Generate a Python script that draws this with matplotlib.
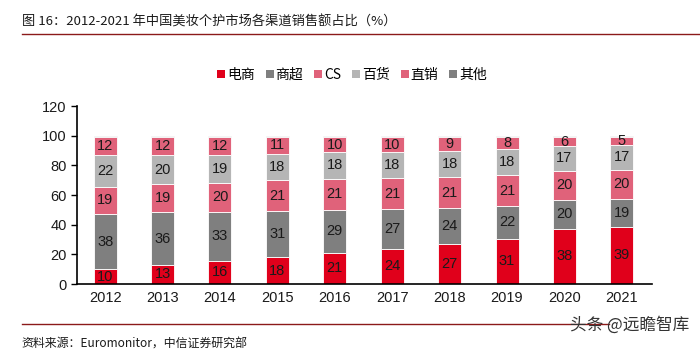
import numpy as np
import matplotlib
matplotlib.use("Agg")
import matplotlib.pyplot as plt
from matplotlib.lines import Line2D
from matplotlib.patches import Patch

plt.rcParams['font.family'] = ['Noto Sans CJK SC', 'DejaVu Sans']

years = ['2012', '2013', '2014', '2015', '2016', '2017', '2018', '2019', '2020', '2021']
ecommerce = [10, 13, 16, 18, 21, 24, 27, 31, 38, 39]
supermarket = [38, 36, 33, 31, 29, 27, 24, 22, 20, 19]
cs = [19, 19, 20, 21, 21, 21, 21, 21, 20, 20]
dept_store = [22, 20, 19, 18, 18, 18, 18, 18, 17, 17]
direct = [12, 12, 12, 11, 10, 10, 9, 8, 6, 5]
other = [1, 1, 1, 1, 1, 1, 1, 1, 1, 1]

names = ['电商', '商超', 'CS', '百货', '直销', '其他']
series = [ecommerce, supermarket, cs, dept_store, direct, other]
colors = ['#e0001b', '#7f7f7f', '#e0627a', '#b5b5b5', '#e0627a', '#7f7f7f']

# labels are rounded, so scale each bar back to a 100% total
data = np.array(series, dtype=float)
shares = data / data.sum(axis=0) * 100

fig = plt.figure(figsize=(7, 3.55), dpi=100)
ax = fig.add_axes([0.11, 0.2, 0.821, 0.501])

x = np.arange(len(years))
bottom = np.zeros(len(years))
for name, vals, shr, c in zip(names, series, shares, colors):
    ax.bar(x, shr, 0.4, bottom=bottom, color=c, edgecolor='white', linewidth=0.6, label=name, zorder=2)
    if name != '其他':
        for xi, b, s, v in zip(x, bottom, shr, vals):
            ax.text(xi, b + s / 2, f'{v}', ha='center', va='center', fontsize=10.5,
                    color='#1a1a1a', family=['Liberation Sans', 'DejaVu Sans'], zorder=3)
    bottom += shr

ax.set_ylim(0, 120)
ax.set_yticks(range(0, 121, 20))
ax.set_xlim(-0.49, 9.52)
ax.set_xticks(x)
ax.set_xticklabels(years)
for lab in ax.get_xticklabels() + ax.get_yticklabels():
    lab.set_family(['Liberation Sans', 'DejaVu Sans'])
    lab.set_fontsize(10.5)
    lab.set_color('#1a1a1a')
ax.spines['top'].set_visible(False)
ax.spines['right'].set_visible(False)
ax.spines['left'].set_linewidth(1.2)
ax.spines['bottom'].set_linewidth(1.2)
ax.tick_params(axis='y', direction='out', length=4, width=1)
ax.tick_params(axis='x', length=0, pad=5)

handles = [Patch(facecolor=c, edgecolor='none') for c in colors]
fig.legend(handles, names, loc='center', bbox_to_anchor=(0.503, 0.789), ncol=6, frameon=False,
           fontsize=10, handlelength=0.55, handleheight=0.55, handletextpad=0.15, columnspacing=0.8)

fig.text(0.031, 0.937, '图 16：2012-2021 年中国美妆个护市场各渠道销售额占比（%）', fontsize=9.5,
         color='#1a1a1a', ha='left', va='center', fontweight='medium')
fig.add_artist(Line2D([0.031, 1.0], [0.905, 0.905], color='#8b1a1a', linewidth=1.0))
fig.add_artist(Line2D([0.031, 0.87], [0.088, 0.088], color='#8b1a1a', linewidth=1.0))
fig.text(0.031, 0.03, '资料来源：Euromonitor，中信证券研究部', fontsize=8.6, color='#1a1a1a', ha='left', va='center')
fig.text(0.985, 0.085, '头条 @远瞻智库', fontsize=12, color='#333333', ha='right', va='center')

fig.savefig('out.png', dpi=100, facecolor='white')
